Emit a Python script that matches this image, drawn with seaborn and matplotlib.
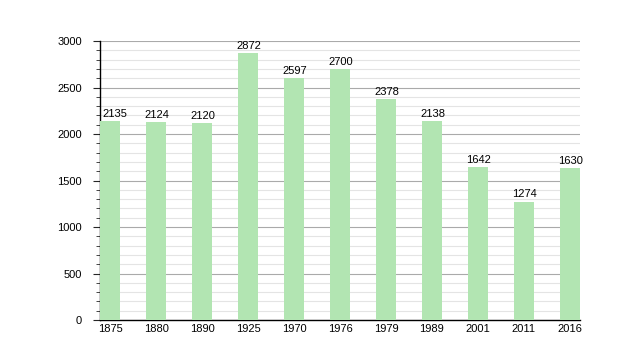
import matplotlib
matplotlib.use("Agg")
import matplotlib.pyplot as plt
from matplotlib.ticker import MultipleLocator
import seaborn as sns
import pandas as pd

years = ["1875", "1880", "1890", "1925", "1970", "1976", "1979", "1989", "2001", "2011", "2016"]
population = [2135, 2124, 2120, 2872, 2597, 2700, 2378, 2138, 1642, 1274, 1630]

df = pd.DataFrame({"year": years, "pop": population})

sns.set_style("white")
plt.rcParams["font.family"] = ["Liberation Sans", "DejaVu Sans"]

fig = plt.figure(figsize=(6.2, 3.6), dpi=100)
ax = fig.add_axes([0.1613, 0.1111, 0.7742, 0.775])

bar_w = 0.43
sns.barplot(data=df, x="year", y="pop", color="#b2e5b2", saturation=1, width=bar_w,
            linewidth=0, ax=ax, zorder=3)

# value labels; the first one is pushed right so it stays clear of the axis
for i, v in enumerate(population):
    if i == 0:
        ax.text(i - bar_w / 2 + 0.04, v + 25, str(v), ha="left", va="bottom", fontsize=8, color="black", zorder=4)
    else:
        ax.text(i + 0.02, v + 25, str(v), ha="center", va="bottom", fontsize=8, color="black", zorder=4)

ax.set_xlim(-0.22, len(years) - 1 + 0.22)
ax.set_ylim(0, 3000)
ax.yaxis.set_major_locator(MultipleLocator(500))
ax.yaxis.set_minor_locator(MultipleLocator(100))
ax.grid(axis="y", which="minor", color="#e4e4e4", linewidth=0.8, zorder=0)
ax.grid(axis="y", which="major", color="#aaaaaa", linewidth=0.8, zorder=1)
ax.set_axisbelow(True)

for s in ["top", "right"]:
    ax.spines[s].set_visible(False)
for s in ["left", "bottom"]:
    ax.spines[s].set_color("black")
    ax.spines[s].set_linewidth(1)

ax.tick_params(axis="y", which="major", length=5, width=0.8, labelsize=8, left=True, pad=8, labelcolor="black")
ax.tick_params(axis="y", which="minor", length=3, width=0.6, left=True)
ax.tick_params(axis="x", length=0, labelsize=8, pad=3, labelcolor="black")
ax.set_xlabel("")
ax.set_ylabel("")

fig.savefig("out.png", dpi=100)
